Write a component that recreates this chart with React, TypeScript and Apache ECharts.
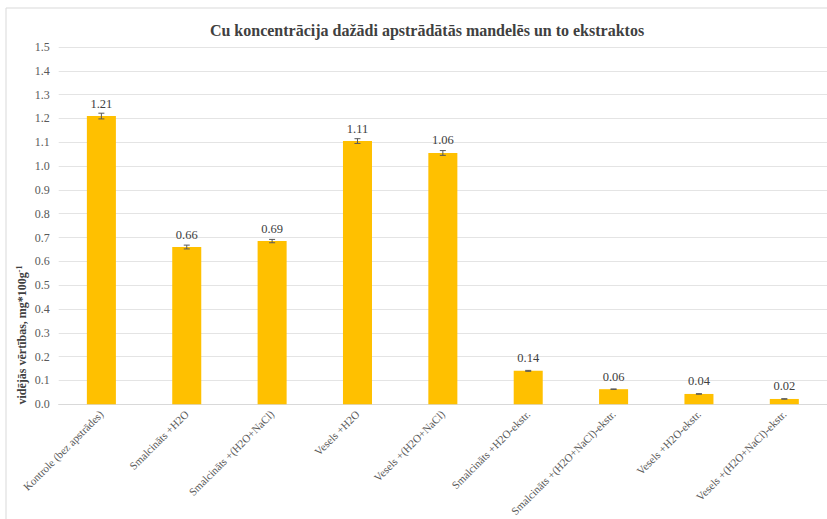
import React, { useEffect, useRef } from "react";
import * as echarts from "echarts";

const categories = [
  "Kontrole (bez apstrādes)",
  "Smalcināts +H2O",
  "Smalcināts +(H2O+NaCl)",
  "Vesels +H2O",
  "Vesels +(H2O+NaCl)",
  "Smalcināts +H2O-ekstr.",
  "Smalcināts +(H2O+NaCl)-ekstr.",
  "Vesels +H2O-ekstr.",
  "Vesels +(H2O+NaCl)-ekstr.",
];
const values = [1.21, 0.66, 0.685, 1.105, 1.055, 0.14, 0.063, 0.043, 0.022];
const labels = ["1.21", "0.66", "0.69", "1.11", "1.06", "0.14", "0.06", "0.04", "0.02"];
const errors = [0.012, 0.008, 0.007, 0.01, 0.01, 0.002, 0.001, 0.001, 0.001];
const yTicks = { min: 0, max: 1.5, interval: 0.1 };

const FONT = "Liberation Serif";

export default function App() {
  const ref = useRef<HTMLDivElement>(null);
  useEffect(() => {
    document.body.style.margin = "0";
    const chart = echarts.init(ref.current!, undefined, { renderer: "svg" });
    chart.setOption({
      animation: false,
      textStyle: { fontFamily: FONT },
      title: {
        text: "Cu koncentrācija dažādi apstrādātās mandelēs un to ekstraktos",
        left: 422,
        textAlign: "center",
        top: 17,
        textStyle: { fontFamily: FONT, fontSize: 16, fontWeight: "bold", color: "#404040" },
      },
      graphic: [
        {
          type: "rect",
          shape: { x: 6, y: 8, width: 840, height: 540 },
          style: { fill: "none", stroke: "#d9d9d9", lineWidth: 1 },
          silent: true,
        },
        {
          type: "text",
          x: 22,
          y: 335,
          rotation: Math.PI / 2,
          style: {
            text: "{a|vidējās vērtības, mg*100g}{s|-1}",
            align: "center",
            verticalAlign: "middle",
            rich: {
              a: { fontFamily: FONT, fontSize: 12, fontWeight: "bold", fill: "#404040", color: "#404040" },
              s: { fontFamily: FONT, fontSize: 8, fontWeight: "bold", fill: "#404040", color: "#404040", verticalAlign: "top", padding: [0, 0, 6, 0] },
            },
          },
        },
      ],
      grid: { left: 58.7, right: -2, top: 47, bottom: 114 },
      xAxis: {
        type: "category",
        data: categories,
        axisTick: { show: false },
        axisLine: { lineStyle: { color: "#d9d9d9" } },
        axisLabel: {
          rotate: 45,
          interval: 0,
          margin: 8,
          fontFamily: FONT,
          fontSize: 11,
          color: "#595959",
        },
      },
      yAxis: {
        type: "value",
        min: yTicks.min,
        max: yTicks.max,
        interval: yTicks.interval,
        axisLine: { show: false },
        axisTick: { show: false },
        splitLine: { lineStyle: { color: "#e4e4e4" } },
        axisLabel: {
          margin: 9,
          fontFamily: FONT,
          fontSize: 12,
          color: "#595959",
          formatter: (v: number) => v.toFixed(1),
        },
      },
      series: [
        {
          type: "bar",
          data: values,
          barWidth: "34%",
          itemStyle: { color: "#ffc000" },
          label: {
            show: true,
            position: "top",
            distance: 6,
            fontFamily: FONT,
            fontSize: 12.5,
            color: "#404040",
            formatter: (p: any) => labels[p.dataIndex],
          },
        },
        {
          type: "custom",
          data: values.map((v, i) => [i, v - errors[i], v + errors[i]]),
          z: 10,
          renderItem: (params: any, api: any) => {
            const x = api.value(0);
            const lo = api.coord([x, api.value(1)]);
            const hi = api.coord([x, api.value(2)]);
            const c = "#595959";
            const hw = 3;
            return {
              type: "group",
              children: [
                { type: "line", shape: { x1: lo[0], y1: lo[1], x2: hi[0], y2: hi[1] }, style: { stroke: c, lineWidth: 1 } },
                { type: "line", shape: { x1: lo[0] - hw, y1: lo[1], x2: lo[0] + hw, y2: lo[1] }, style: { stroke: c, lineWidth: 1 } },
                { type: "line", shape: { x1: hi[0] - hw, y1: hi[1], x2: hi[0] + hw, y2: hi[1] }, style: { stroke: c, lineWidth: 1 } },
              ],
            };
          },
        },
      ],
    });
    return () => chart.dispose();
  }, []);
  return <div ref={ref} style={{ width: 827, height: 519 }} />;
}
